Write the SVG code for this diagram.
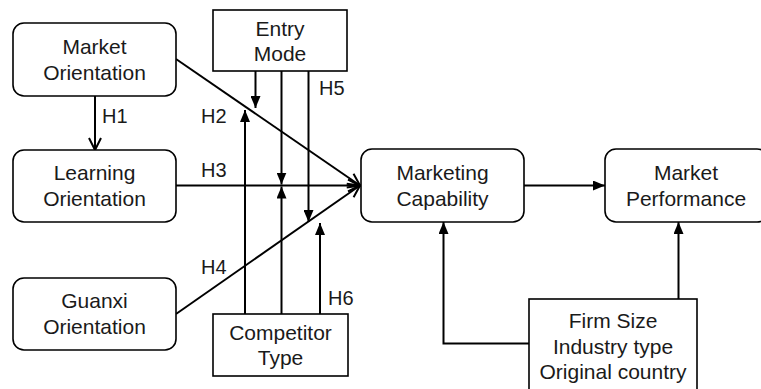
<svg xmlns="http://www.w3.org/2000/svg" width="761" height="389" viewBox="0 0 761 389">
<style>
.box{fill:#fff;stroke:#000;stroke-width:1.6}
.t{font-family:"Liberation Sans",Arial,sans-serif;font-size:21px;fill:#1a1a1a;text-anchor:middle}
.h{font-family:"Liberation Sans",Arial,sans-serif;font-size:20px;fill:#1a1a1a}
.ln{fill:none;stroke:#000;stroke-width:2}
</style>
<defs>
<marker id="tri" markerUnits="userSpaceOnUse" viewBox="0 0 12 10" markerWidth="12" markerHeight="10" refX="12" refY="5" orient="auto">
<path d="M0,0 L12,5 L0,10 z" fill="#000"/>
</marker>
<marker id="vee" markerUnits="userSpaceOnUse" viewBox="-2 -2 16 16" markerWidth="16" markerHeight="16" refX="12" refY="6" orient="auto" overflow="visible">
<path d="M0,0 L12,6 L0,12" fill="none" stroke="#000" stroke-width="2"/>
</marker>
</defs>
<g id="connectors">
<line class="ln" x1="95" y1="96" x2="95" y2="150" marker-end="url(#vee)"/>
<line class="ln" x1="176" y1="59" x2="360" y2="185.5" marker-end="url(#vee)"/>
<line class="ln" x1="176" y1="185.5" x2="360" y2="185.5" marker-end="url(#vee)"/>
<line class="ln" x1="176" y1="314" x2="360" y2="185.5" marker-end="url(#vee)"/>
<line class="ln" x1="255.5" y1="71" x2="255.5" y2="108" marker-end="url(#tri)"/>
<line class="ln" x1="281.5" y1="71" x2="281.5" y2="184.5" marker-end="url(#tri)"/>
<line class="ln" x1="308.5" y1="71" x2="308.5" y2="222" marker-end="url(#tri)"/>
<line class="ln" x1="245" y1="314" x2="245" y2="110" marker-end="url(#tri)"/>
<line class="ln" x1="281.5" y1="314" x2="281.5" y2="186.5" marker-end="url(#tri)"/>
<line class="ln" x1="320" y1="314" x2="320" y2="223" marker-end="url(#tri)"/>
<line class="ln" x1="524" y1="185.5" x2="605" y2="185.5" marker-end="url(#tri)"/>
<polyline class="ln" points="529,343.5 443.5,343.5 443.5,222" marker-end="url(#tri)"/>
<line class="ln" x1="678.5" y1="299" x2="678.5" y2="222" marker-end="url(#tri)"/>
<text class="h" x="102" y="123">H1</text>
<text class="h" x="201" y="123">H2</text>
<text class="h" x="201" y="177">H3</text>
<text class="h" x="201" y="274">H4</text>
<text class="h" x="319" y="95">H5</text>
<text class="h" x="328" y="305">H6</text>
</g>
<g id="market-orientation">
<rect class="box" x="13" y="23" width="163" height="73" rx="11"/>
<text class="t" x="94.5" y="54">Market</text>
<text class="t" x="94.5" y="80">Orientation</text>
</g>
<g id="learning-orientation">
<rect class="box" x="13" y="150" width="163" height="72" rx="11"/>
<text class="t" x="94.5" y="180">Learning</text>
<text class="t" x="94.5" y="206">Orientation</text>
</g>
<g id="guanxi-orientation">
<rect class="box" x="13" y="278" width="163" height="72" rx="11"/>
<text class="t" x="94.5" y="308">Guanxi</text>
<text class="t" x="94.5" y="334">Orientation</text>
</g>
<g id="entry-mode">
<rect class="box" x="213" y="10" width="134" height="61"/>
<text class="t" x="280" y="36">Entry</text>
<text class="t" x="280" y="61">Mode</text>
</g>
<g id="competitor-type">
<rect class="box" x="213" y="314" width="135" height="62"/>
<text class="t" x="280.5" y="340">Competitor</text>
<text class="t" x="280.5" y="365">Type</text>
</g>
<g id="marketing-capability">
<rect class="box" x="361" y="149" width="163" height="73" rx="11"/>
<text class="t" x="442.5" y="180">Marketing</text>
<text class="t" x="442.5" y="206">Capability</text>
</g>
<g id="market-performance">
<rect class="box" x="605" y="149" width="163" height="73" rx="11"/>
<text class="t" x="686" y="180">Market</text>
<text class="t" x="686" y="206">Performance</text>
</g>
<g id="controls">
<rect class="box" x="529" y="299" width="168" height="100"/>
<text class="t" x="613" y="328">Firm Size</text>
<text class="t" x="613" y="354">Industry type</text>
<text class="t" x="613" y="379">Original country</text>
</g>
</svg>
